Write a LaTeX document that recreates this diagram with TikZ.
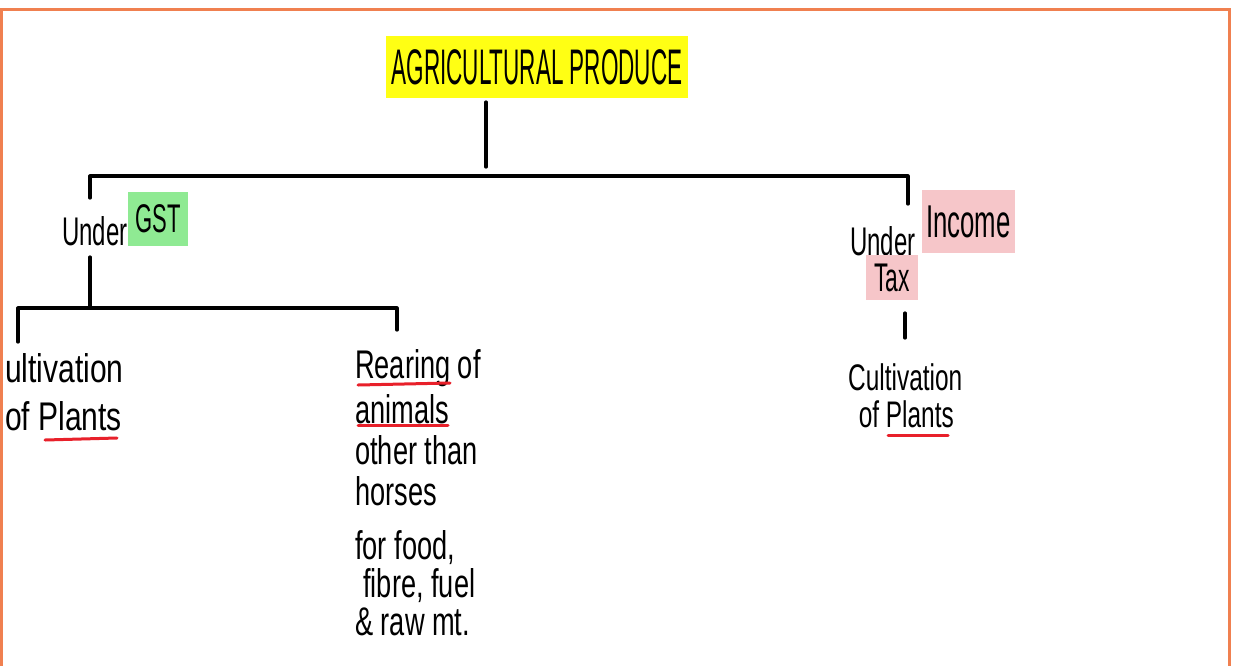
\documentclass[tikz,border=0pt]{standalone}
\usepackage{fontspec}
\setmainfont{Liberation Sans}
\usepackage{graphicx}
\definecolor{hlyellow}{HTML}{FFFF14}
\definecolor{hlgreen}{HTML}{8FEA93}
\definecolor{hlpink}{HTML}{F6C6C9}
\definecolor{ulred}{HTML}{E8202A}
\definecolor{frameorange}{HTML}{F08050}
\newcommand{\hwx}[2]{\scalebox{#1}[1]{#2}}
\newcommand{\hwlines}[2]{\scalebox{#1}[1]{\begin{tabular}[t]{@{}l@{}}#2\end{tabular}}}
\begin{document}
\begin{tikzpicture}[x=1pt,y=-1pt,
  txt/.style={inner sep=0pt, anchor=base west, font=\fontsize{40}{40}\selectfont},
  hlbox/.style={inner sep=0pt, font=\fontsize{40}{40}\selectfont},
  link/.style={line width=3.2pt, line cap=round, line join=round},
  uline/.style={draw=ulred, line width=3pt, line cap=round},
  frameline/.style={draw=frameorange, line width=2.5pt}]
\useasboundingbox (0,0) rectangle (1234,665);
\fill[white] (0,0) rectangle (1234,665);
% frame
\draw[frameline] (1.5,666) -- (1.5,9.5) -- (1229.5,9.5) -- (1229.5,666);

% title
\node[hlbox, fill=hlyellow, minimum width=302pt, minimum height=62pt,
      font=\fontsize{50}{50}\selectfont] (title) at (537,67) {\hwx{0.45}{AGRICULTURAL PRODUCE}};

% GST branch
\node[txt] (gstU) at (62,245) {\hwx{0.6}{Under}};
\node[hlbox, fill=hlgreen, minimum width=60pt, minimum height=54pt] (gst) at (158,219) {\hwx{0.55}{GST}};

% Income tax branch
\node[txt] (itU) at (850,255) {\hwx{0.6}{Under}};
\node[hlbox, fill=hlpink, minimum width=93pt, minimum height=63pt,
      font=\fontsize{46}{46}\selectfont] (itInc) at (968.5,221.5) {\hwx{0.56}{Income}};
\node[hlbox, fill=hlpink, minimum width=52pt, minimum height=45pt] (itTax) at (892,277.5) {\hwx{0.57}{Tax}};

% leaves
\node[txt] (leafA) at (5,382) {\hwlines{0.75}{ultivation\\[8pt]of Plants}};
\node[txt] (leafB) at (355,378) {\hwlines{0.68}{Rearing of\\[5pt]animals\\other than\\horses\\[13pt]for food,\\[-3pt]\hspace*{12pt}fibre, fuel\\[-2pt]\& raw mt.}};
\node[txt, font=\fontsize{37}{37}\selectfont] (leafC) at (848,390) {\hwlines{0.66}{Cultivation\\\hspace*{16pt}of Plants}};

% junction coordinates
\coordinate (tS) at (486,102);
\coordinate (tE) at (486,167);
\coordinate (b1L) at (90,176);
\coordinate (b1R) at (908,176);
\coordinate (gIn) at (90,198);
\coordinate (iIn) at (908,204);
\coordinate (gS) at (90,257);
\coordinate (b2L) at (18,308);
\coordinate (b2R) at (397,308);
\coordinate (aIn) at (18,342);
\coordinate (bIn) at (397,330);
\coordinate (iS) at (905,313);
\coordinate (cIn) at (905,338);

% connectors
\draw[link] (tS) -- (tE);
\draw[link] (gIn) -- (b1L) -- (b1R) -- (iIn);
\draw[link] (gS) -- (gS |- b2L);
\draw[link] (aIn) -- (b2L) -- (b2R) -- (bIn);
\draw[link] (iS) -- (cIn);

% red underlines
\draw[uline] (45,440) -- (117,438);
\draw[uline] (358,385) -- (450,383);
\draw[uline] (358,425) -- (448,425);
\draw[uline] (888,435) -- (948,435);
\end{tikzpicture}
\end{document}
